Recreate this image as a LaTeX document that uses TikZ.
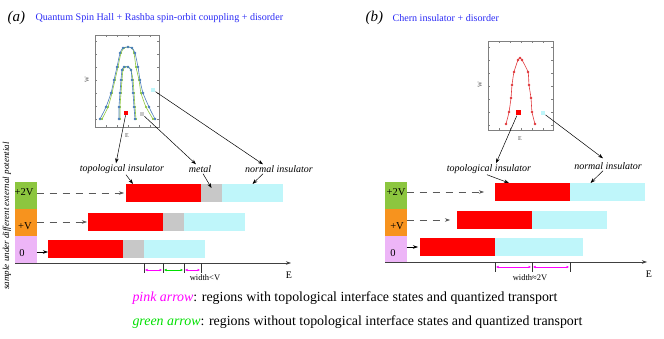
\documentclass[tikz,border=0pt]{standalone}
\usepackage{fontspec}
\setmainfont{Liberation Serif}
\usetikzlibrary{arrows.meta,positioning,calc}
\definecolor{titleblue}{HTML}{2B2BF5}
\definecolor{topored}{HTML}{FF0000}
\definecolor{metalgray}{HTML}{C8C8C8}
\definecolor{normcyan}{HTML}{BFF6FA}
\definecolor{vgreen}{HTML}{8CC63F}
\definecolor{vorange}{HTML}{F7931E}
\definecolor{vpink}{HTML}{EDB5F7}
\definecolor{pinkarr}{HTML}{FF00FF}
\definecolor{greenarr}{HTML}{00E000}
\definecolor{curveblue}{HTML}{4A7EBB}
\definecolor{curvegreen}{HTML}{8DC63F}
\definecolor{curvered}{HTML}{E03A3E}

\begin{document}
\begin{tikzpicture}[x=1pt, y=-1pt,
      every node/.style={font=\fontsize{10}{12}\selectfont},
      seg/.style={inner sep=0pt, outer sep=0pt, minimum height=18pt, anchor=north west},
      vbox/.style={inner sep=0pt, outer sep=0pt, minimum width=21.5pt,
                   minimum height=27pt, anchor=north west},
      vlbl/.style={font=\fontsize{10.5}{12}\selectfont, inner sep=0pt},
      phase/.style={font=\itshape\fontsize{10}{12}\selectfont, inner sep=1pt},
      arr/.style={-{Stealth[length=5pt,width=3.5pt]}, line width=0.5pt},
      dasharr/.style={arr, dash pattern=on 7pt off 6pt, draw=black!65},
      warr/.style={{Latex[length=2.5pt,width=2.5pt]}-{Latex[length=2.5pt,width=2.5pt]},
                   line width=0.6pt},
      tick/.style={line width=0.7pt, draw=black!80},
      sq/.style={inner sep=0pt, minimum size=4.5pt},
      frame/.style={draw=gray, line width=0.5pt},
      small/.style={font=\fontsize{6}{7}\selectfont, text=black!70, inner sep=0pt}
  ]
    \useasboundingbox (0,0) rectangle (664,339);

    % ---- Titles ----
    \node[anchor=west, font=\itshape\fontsize{15}{16}\selectfont] (capA) at (4,18) {(a)};
    \node[anchor=west, text=titleblue, font=\fontsize{10.1}{12}\selectfont] (titA) at (32,18)
          {Quantum Spin Hall + Rashba spin-orbit couppling + disorder};
    \node[anchor=west, font=\itshape\fontsize{15}{16}\selectfont] (capB) at (362,18) {(b)};
    \node[anchor=west, text=titleblue, font=\fontsize{10.1}{12}\selectfont] (titB) at (389,18)
          {Chern insulator + disorder};

    % ---- Inset (a): W versus E ----
    \node[frame, inner sep=0pt, minimum width=64pt, minimum height=92pt, anchor=north west]
          (plotA) at (95,35) {};
    \foreach \y in {41,54,...,119} {
      \draw[frame] (95,\y) -- ++(2,0);
      \draw[frame] (159,\y) -- ++(-2,0);
    }
    \foreach \x in {106,117,...,150} {
      \draw[frame] (\x,35) -- ++(0,2);
      \draw[frame] (\x,127) -- ++(0,-2);
    }
    \node[small, rotate=90] (wA) at (87,80) {W};
    \node[small] (eInA) at (127,136) {E};
    \draw[curvegreen, line width=0.6pt] plot[smooth, tension=0.4, mark=*, mark size=0.8pt,
          mark options={fill=curvegreen}] coordinates {(102,119) (108,107) (112,93) (115,80)
          (118,67) (121,53) (124,48) (128,47) (132,48) (134,53) (136,67) (139,80) (141,93)
          (146,107) (153,119)};
    \draw[curvegreen, line width=0.6pt] plot[smooth, tension=0.4, mark=*, mark size=0.8pt,
          mark options={fill=curvegreen}] coordinates {(120,119) (120,107) (121,93) (122,80)
          (123,70) (125,67) (128,67) (131,70) (133,80) (134,93) (135,107) (136,119)};
    \draw[curveblue, line width=0.6pt] plot[smooth, tension=0.4, mark=*, mark size=1pt,
          mark options={fill=curveblue}] coordinates {(100,119) (106,107) (111,93) (114,80)
          (117,67) (120,53) (123,48) (128,47) (132,48) (135,53) (138,67) (140,80) (143,93)
          (149,107) (155,119)};
    \draw[curveblue, line width=0.6pt] plot[smooth, tension=0.4, mark=*, mark size=1pt,
          mark options={fill=curveblue}] coordinates {(119,119) (119,107) (120,93) (121,80)
          (122,70) (124,67) (128,67) (131,70) (132,80) (133,93) (134,107) (135,119)};
    \node[sq, fill=topored] (sqRedA) at (126,113) {};
    \node[sq, fill=metalgray] (sqGreyA) at (142,114) {};
    \node[sq, fill=normcyan] (sqCyanA) at (153,90) {};

    % ---- Inset (b): W versus E ----
    \node[frame, inner sep=0pt, minimum width=65pt, minimum height=89pt, anchor=north west]
          (plotB) at (488,41) {};
    \foreach \y in {47,60,...,125} {
      \draw[frame] (488,\y) -- ++(2,0);
      \draw[frame] (553,\y) -- ++(-2,0);
    }
    \foreach \x in {499,510,...,543} {
      \draw[frame] (\x,41) -- ++(0,2);
      \draw[frame] (\x,130) -- ++(0,-2);
    }
    \node[small, rotate=90] (wB) at (480,85) {W};
    \node[small] (eInB) at (520,139) {E};
    \draw[curvered, line width=0.6pt] plot[smooth, tension=0.4, mark=*, mark size=1pt,
          mark options={fill=curvered}] coordinates {(506,124) (509,112) (511,98) (512,85)
          (514,72) (518,60) (520,58) (522,60) (528,72) (529,85) (531,98) (532,112) (535,124)};
    \node[sq, minimum size=5pt, fill=topored] (sqRedB) at (518,113) {};
    \node[sq, fill=normcyan] (sqCyanB) at (543,113) {};

    % ---- Vertical label ----
    \node[rotate=90, font=\itshape\fontsize{9}{10}\selectfont] (vlab) at (7,216)
          {sample under different external potential};

    % ---- Bars (a) ----
    \foreach \r/\x/\y in {0/48/240, 1/88/213, 2/126/184} {
      \node[seg, fill=topored, minimum width=75pt] (redA\r) at (\x,\y) {};
      \node[seg, fill=metalgray, minimum width=21pt] (greyA\r) at (redA\r.north east) {};
      \node[seg, fill=normcyan, minimum width=61pt] (cyanA\r) at (greyA\r.north east) {};
    }

    % ---- Bars (b) ----
    \foreach \r/\x/\y/\w in {0/420/238/88, 1/457/211/75, 2/495/183/75} {
      \node[seg, fill=topored, minimum width=75pt] (redB\r) at (\x,\y) {};
      \node[seg, fill=normcyan, minimum width=\w pt] (cyanB\r) at (redB\r.north east) {};
    }

    % ---- Potential boxes ----
    \node[vbox, fill=vgreen] (vA2) at (15,182) {};
    \node[vbox, fill=vorange] (vA1) at (15,209) {};
    \node[vbox, fill=vpink] (vA0) at (15,236) {};
    \node[vlbl] (lA2) at (24,192) {+2V};
    \node[vlbl] (lA1) at (25,226) {+V};
    \node[vlbl] (lA0) at (22,253) {0};
    \node[vbox, fill=vgreen] (vB2) at (385,182) {};
    \node[vbox, fill=vorange] (vB1) at (385,209) {};
    \node[vbox, fill=vpink] (vB0) at (385,236) {};
    \node[vlbl] (lB2) at (396,192) {+2V};
    \node[vlbl] (lB1) at (397,226) {+V};
    \node[vlbl] (lB0) at (393,253) {0};

    % ---- Shift arrows ----
    \draw[dasharr] (vA2.east |- redA2.west) -- ([xshift=-2pt]redA2.west);
    \draw[dasharr] (vA1.east |- redA1.west) -- ([xshift=-1pt]redA1.west);
    \draw[arr] ($(vA0.east |- redA0.west)+(0,3)$) -- ($(redA0.west)+(0,3)$);
    \draw[dasharr] (vB2.east |- redB2.west) -- ([xshift=-11pt]redB2.west);
    \draw[dasharr] (vB1.east |- redB1.west) -- ([xshift=-7pt]redB1.west);
    \draw[arr] (vB0.east |- redB0.west) -- ([xshift=-2pt]redB0.west);

    % ---- Energy axes ----
    \coordinate (axA0) at (15,263);
    \coordinate (axA1) at (291,263);
    \draw[arr, line width=0.6pt, draw=black!75] (axA0) -- (axA1);
    \node (eA) at (289,275) {E};
    \coordinate (axB0) at (385,262);
    \coordinate (axB1) at (647,262);
    \draw[arr, line width=0.6pt, draw=black!75] (axB0) -- (axB1);
    \node (eB) at (649,274) {E};

    % ---- Width ticks (a) ----
    \coordinate (tA1) at (cyanA0.north west |- axA0);
    \coordinate (tA2) at (redA1.north east |- axA0);
    \coordinate (tA3) at (cyanA1.north west |- axA0);
    \coordinate (tA4) at (redA2.north east |- axA0);
    \foreach \t in {tA1,tA2,tA3,tA4} {
      \draw[tick] (\t) -- ++(0,10);
    }
    \draw[warr, pinkarr] ([shift={(1,7)}]tA1) -- ([shift={(-1,7)}]tA2);
    \draw[warr, greenarr] ([shift={(1,7)}]tA2) -- ([shift={(-1,7)}]tA3);
    \draw[warr, pinkarr] ([shift={(1,7)}]tA3) -- ([shift={(-1,7)}]tA4);
    \node[font=\fontsize{8.5}{10}\selectfont] (wdA) at (205,278) {width<V};

    % ---- Width ticks (b) ----
    \coordinate (tB1) at (cyanB0.north west |- axB0);
    \coordinate (tB2) at (redB1.north east |- axB0);
    \coordinate (tB3) at (redB2.north east |- axB0);
    \foreach \t in {tB1,tB2,tB3} {
      \draw[tick] (\t) -- ++(0,10);
    }
    \draw[warr, pinkarr] ([shift={(1,5)}]tB1) -- ([shift={(-1,5)}]tB2);
    \draw[warr, pinkarr] ([shift={(1,5)}]tB2) -- ([shift={(-1,5)}]tB3);
    \node[font=\fontsize{8.5}{10}\selectfont] (wdB) at (530,278) {width≈2V};

    % ---- Phase labels (a) ----
    \node[phase] (tiA) at (122,169) {topological insulator};
    \node[phase] (metA) at (200,169) {metal};
    \node[phase] (nlA) at (279,169) {normal insulator};
    \draw[arr] (sqRedA) -- ([xshift=-6pt]tiA.north);
    \draw[arr] (sqGreyA) -- ([xshift=-4pt]metA.north);
    \draw[arr] (sqCyanA) -- ([xshift=-16pt]nlA.north);
    \draw[arr] ([xshift=4pt]tiA.south) -- ([xshift=7pt]redA2.north west);
    \draw[arr] ([xshift=3pt]metA.south) -- ([yshift=-4pt]greyA2.north);
    \draw[arr] ([xshift=-16pt]nlA.south) -- (cyanA2.north);

    % ---- Phase labels (b) ----
    \node[phase] (tiB) at (489,169) {topological insulator};
    \node[phase] (nlB) at (608,166) {normal insulator};
    \draw[arr] (sqRedB) -- ([xshift=7pt]tiB.north);
    \draw[arr] (sqCyanB) -- ([xshift=-5pt,yshift=3pt]nlB.north);
    \draw[arr] ([xshift=-2pt]tiB.south) -- ([xshift=14pt]redB2.north west);
    \draw[arr] ([xshift=-5pt]nlB.south) -- ([xshift=-17pt]cyanB2.north);

    % ---- Legend ----
    \node[anchor=west, font=\fontsize{13.9}{16}\selectfont] (legPink) at (129,298)
          {\textcolor{pinkarr}{\itshape pink arrow}: regions with topological interface states and quantized transport};
    \node[anchor=west, font=\fontsize{13.9}{16}\selectfont] (legGreen) at (129,322)
          {\textcolor{greenarr}{\itshape green arrow}: regions without topological interface states and quantized transport};

  \end{tikzpicture}
\end{document}
